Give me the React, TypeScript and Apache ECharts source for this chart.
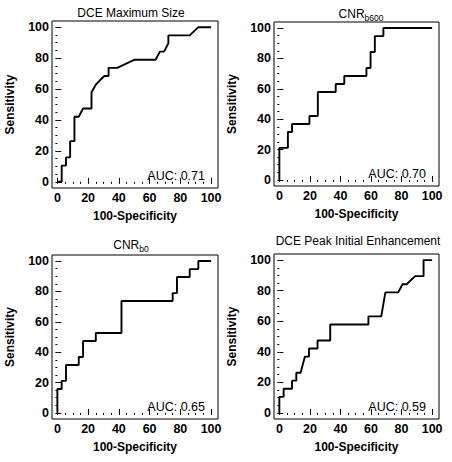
import React, { useEffect, useRef } from "react";
import * as echarts from "echarts";

// ---- Data ----
const panelTitles = ["DCE Maximum Size", "CNR|b600", "CNR|b0", "DCE Peak Initial Enhancement"];
const aucLabels = ["AUC: 0.71", "AUC: 0.70", "AUC: 0.65", "AUC: 0.59"];
const xAxisName = "100-Specificity";
const yAxisName = "Sensitivity";
const majorTicks = [0, 20, 40, 60, 80, 100];
const minorTicks = [0, 5, 10, 15, 20, 25, 30, 35, 40, 45, 50, 55, 60, 65, 70, 75, 80, 85, 90, 95, 100];

// ROC curves: [100-Specificity, Sensitivity]
const rocDceMaxSize: number[][] = [
  [0, 0], [2.8, 0], [2.8, 10.5], [5.6, 10.5], [5.6, 15.8], [8.3, 15.8], [8.3, 26.3],
  [11.1, 26.3], [11.1, 42.1], [13.9, 42.1], [16.7, 47.4], [22.2, 47.4], [22.2, 57.9],
  [25, 62.8], [27.8, 65.8], [30.6, 68.4], [33.3, 68.4], [33.3, 73.7], [38.9, 73.7],
  [50, 78.9], [63.9, 78.9], [66.7, 84.2], [69.4, 84.2], [72.2, 89.5], [72.2, 94.7],
  [86.1, 94.7], [91.7, 100], [100, 100],
];
const rocCnrB600: number[][] = [
  [0, 0], [0, 21.1], [5.6, 21.1], [5.6, 31.6], [8.3, 31.6], [8.3, 36.8], [19.7, 36.8],
  [19.7, 42.1], [25.2, 42.1], [25.2, 57.9], [36.9, 57.9], [36.9, 63.2], [42.5, 63.2],
  [42.5, 68.4], [57, 68.4], [57, 73.7], [59.7, 73.7], [59.7, 84.2], [62.5, 84.2],
  [62.5, 94.7], [68.1, 94.7], [68.1, 100], [100, 100],
];
const rocCnrB0: number[][] = [
  [0, 0], [0, 15.8], [2.8, 15.8], [2.8, 21.1], [5.6, 21.1], [5.6, 31.6], [13.9, 31.6],
  [13.9, 36.8], [16.7, 36.8], [16.7, 47.4], [25, 47.4], [25, 52.6], [41.7, 52.6],
  [41.7, 73.7], [75, 73.7], [75, 78.9], [77.8, 78.9], [77.8, 89.5], [86.1, 89.5],
  [86.1, 94.7], [91.7, 94.7], [91.7, 100], [100, 100],
];
const rocDcePeak: number[][] = [
  [0, 0], [0, 10.5], [2.8, 10.5], [2.8, 15.8], [8.3, 15.8], [8.3, 21.1], [11.1, 21.1],
  [11.1, 26.3], [13.9, 26.3], [16.7, 36.8], [19.4, 36.8], [19.4, 42.1], [25, 42.1],
  [25, 47.4], [33.3, 47.4], [33.3, 57.9], [58.3, 57.9], [58.3, 63.2], [66.7, 63.2],
  [69.4, 78.9], [77.8, 78.9], [80.6, 84.2], [83.3, 84.2], [88.9, 89.5], [94.4, 89.5],
  [94.4, 100], [100, 100],
];
const rocSeries = [rocDceMaxSize, rocCnrB600, rocCnrB0, rocDcePeak];

// ---- Layout ----
const grids = [
  { left: 52, top: 21, width: 166, height: 167 },
  { left: 274, top: 22, width: 165, height: 164 },
  { left: 52, top: 255, width: 166, height: 164 },
  { left: 274, top: 254, width: 165, height: 165 },
];
const titlePos = [
  [131, 13],
  [361, 15],
  [131, 246],
  [358, 241],
];
const xRange = [-3.5, 104.5];
const yRange = [-4, 104];
const FONT = "'Liberation Sans', Arial, sans-serif";

function buildOption() {
  const xAxis: any[] = [];
  const yAxis: any[] = [];
  const series: any[] = [];
  const graphic: any[] = [];
  const labelStyle = { color: "#000", fontFamily: FONT, fontWeight: "bold", fontSize: 12.5 };
  const nameStyle = { color: "#000", fontFamily: FONT, fontWeight: "bold", fontSize: 12 };

  grids.forEach((g, i) => {
    xAxis.push({
      type: "value", gridIndex: i, min: xRange[0], max: xRange[1],
      name: xAxisName, nameLocation: "middle", nameGap: 22, nameTextStyle: nameStyle,
      axisLine: { show: false }, splitLine: { show: false },
      axisTick: { show: true, inside: true, length: 4, customValues: majorTicks, lineStyle: { color: "#000", width: 1 } },
      axisLabel: { show: true, margin: 3, customValues: majorTicks, ...labelStyle },
    });
    yAxis.push({
      type: "value", gridIndex: i, min: yRange[0], max: yRange[1],
      name: yAxisName, nameLocation: "middle", nameGap: 36, nameTextStyle: nameStyle,
      axisLine: { show: false }, splitLine: { show: false },
      axisTick: { show: true, inside: true, length: 4, customValues: majorTicks, lineStyle: { color: "#000", width: 1 } },
      axisLabel: { show: true, margin: 3, customValues: majorTicks, ...labelStyle },
    });
    series.push({
      type: "line", xAxisIndex: i, yAxisIndex: i, data: rocSeries[i],
      symbol: "none", showSymbol: false, lineStyle: { color: "#000", width: 1.9 },
      silent: true,
    });
  });
  grids.forEach((g, i) => {
    xAxis.push({
      type: "value", gridIndex: i, min: xRange[0], max: xRange[1],
      axisLine: { show: false }, splitLine: { show: false },
      axisTick: { show: true, inside: true, length: 2, customValues: minorTicks, lineStyle: { color: "#000", width: 1 } },
      axisLabel: { show: false },
    });
    yAxis.push({
      type: "value", gridIndex: i, min: yRange[0], max: yRange[1],
      axisLine: { show: false }, splitLine: { show: false },
      axisTick: { show: true, inside: true, length: 2, customValues: minorTicks, lineStyle: { color: "#000", width: 1 } },
      axisLabel: { show: false },
    });
  });

  panelTitles.forEach((t, i) => {
    const [tx, ty] = titlePos[i];
    if (t.includes("|")) {
      const [main, sub] = t.split("|");
      graphic.push({
        type: "text", x: tx, y: ty,
        style: {
          text: `{n|${main}}{s|${sub}}`,
          align: "center", verticalAlign: "middle",
          rich: {
            n: { fontFamily: FONT, fontSize: 12, fill: "#000", lineHeight: 12, verticalAlign: "top" },
            s: { fontFamily: FONT, fontSize: 8.5, fill: "#000", lineHeight: 15, verticalAlign: "bottom" },
          },
        },
      });
    } else {
      graphic.push({
        type: "text", x: tx, y: ty,
        style: { text: t, fontFamily: FONT, fontSize: 12, fill: "#000", align: "center", verticalAlign: "middle" },
      });
    }
  });
  aucLabels.forEach((t, i) => {
    const g = grids[i];
    graphic.push({
      type: "text", x: g.left + g.width - 13, y: g.top + g.height - 12,
      style: { text: t, fontFamily: FONT, fontSize: 12.5, fill: "#000", align: "right", verticalAlign: "middle" },
    });
  });

  return {
    animation: false,
    backgroundColor: "#fff",
    grid: grids.map((g) => ({ ...g, show: true, borderColor: "#000", borderWidth: 1, backgroundColor: "transparent" })),
    xAxis, yAxis, series, graphic,
  };
}

export default function App() {
  const ref = useRef<HTMLDivElement>(null);
  useEffect(() => {
    if (!ref.current) return;
    const chart = echarts.init(ref.current, undefined, { renderer: "svg" });
    chart.setOption(buildOption() as any);
    return () => chart.dispose();
  }, []);
  return <div ref={ref} style={{ position: "fixed", left: 0, top: 0, width: 452, height: 462, background: "#fff" }} />;
}
